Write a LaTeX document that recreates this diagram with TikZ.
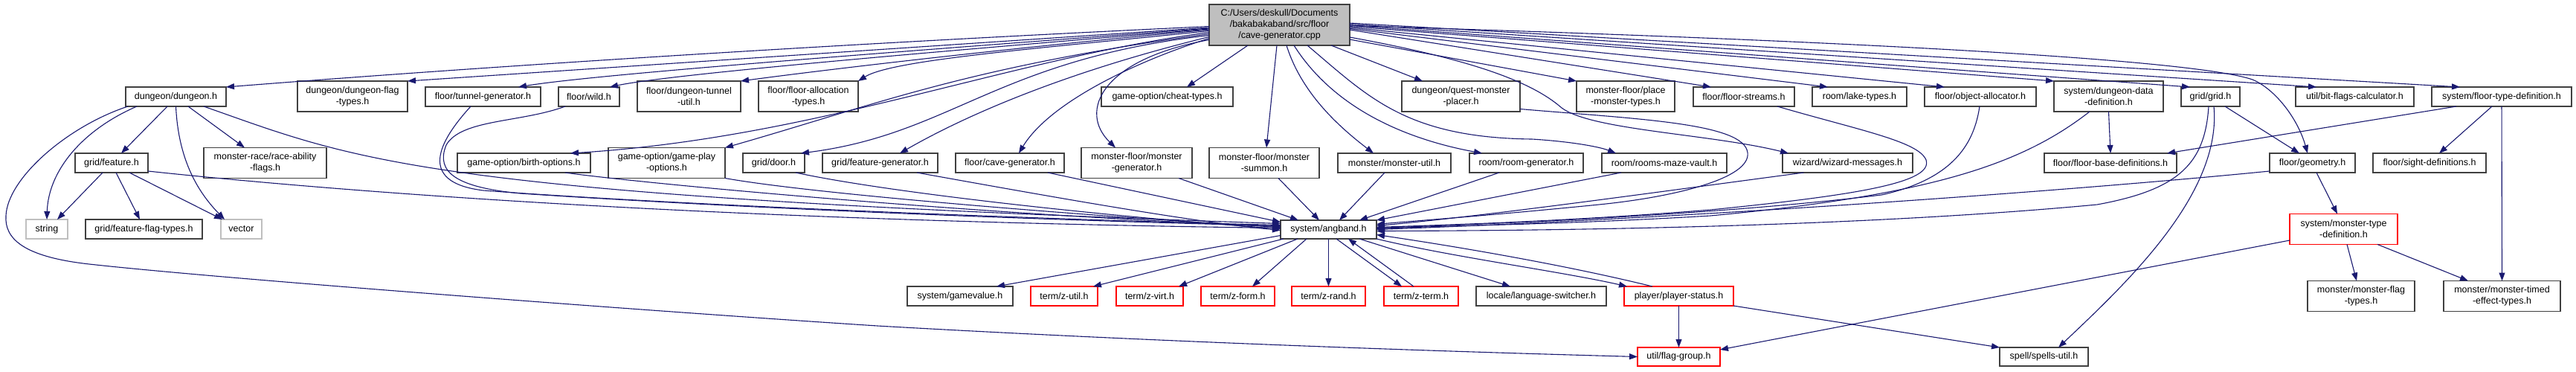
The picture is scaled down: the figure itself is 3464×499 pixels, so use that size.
\documentclass[tikz,border=0pt]{standalone}
\usepackage{fontspec}
\setmainfont{Liberation Sans}
\usepackage{tikz}
\usetikzlibrary{arrows.meta,positioning}
\usepackage{xcolor}
\definecolor{doxyedge}{HTML}{191970}
\definecolor{doxyline}{HTML}{404040}
\definecolor{doxyfill}{HTML}{BFBFBF}
\definecolor{doxyred}{HTML}{FF0000}

\begin{document}
\begin{tikzpicture}[
    x=1pt,y=-1pt,
    filebox/.style={draw=doxyline,fill=white,line width=1.3pt,inner sep=0pt,outer sep=0pt,
      minimum height=26pt,align=center,font=\fontsize{12.5}{15}\selectfont},
    twoline/.style={minimum height=41pt},
    truncbox/.style={filebox,draw=doxyred},
    sysbox/.style={filebox,draw=doxyfill},
    mainbox/.style={filebox,fill=doxyfill,minimum height=55pt},
    arrow/.style={-{Triangle[length=11pt,width=8pt]},line width=1.1pt,doxyedge}
  ]
    \fill[white] (0,0) rectangle (3464,499);
    \useasboundingbox (0,0) rectangle (3464,499);
    \node[mainbox,minimum width=189pt] (main) at (1720.5,33.5) {C:/Users/deskull/Documents\\/bakabakaband/src/floor\\/cave-generator.cpp};
    \node[filebox,minimum width=135pt] (dungeon) at (236.5,130) {dungeon/dungeon.h};
    \node[filebox,twoline,minimum width=148pt] (dflag) at (474,129.5) {dungeon/dungeon-flag\\-types.h};
    \node[filebox,minimum width=155pt] (tunnel) at (649.5,130) {floor/tunnel-generator.h};
    \node[filebox,minimum width=82pt] (wild) at (792,130) {floor/wild.h};
    \node[filebox,twoline,minimum width=139pt] (tunutil) at (926.5,129.5) {floor/dungeon-tunnel\\-util.h};
    \node[filebox,twoline,minimum width=134pt] (falloc) at (1087,129.5) {floor/floor-allocation\\-types.h};
    \node[filebox,minimum width=177pt] (cheat) at (1569.5,130) {game-option/cheat-types.h};
    \node[filebox,twoline,minimum width=159pt] (quest) at (1964.5,129.5) {dungeon/quest-monster\\-placer.h};
    \node[filebox,twoline,minimum width=132pt] (placemon) at (2186,129.5) {monster-floor/place\\-monster-types.h};
    \node[filebox,minimum width=136pt] (streams) at (2345,130) {floor/floor-streams.h};
    \node[filebox,minimum width=127pt] (lake) at (2500.5,130) {room/lake-types.h};
    \node[filebox,minimum width=150pt] (objalloc) at (2663,130) {floor/object-allocator.h};
    \node[filebox,twoline,minimum width=147pt] (dgndata) at (2835.5,129.5) {system/dungeon-data\\-definition.h};
    \node[filebox,minimum width=79pt] (grid) at (2972.5,130) {grid/grid.h};
    \node[filebox,minimum width=159pt] (bitflags) at (3166.5,130) {util/bit-flags-calculator.h};
    \node[filebox,minimum width=188pt] (floortype) at (3364,130) {system/floor-type-definition.h};
    \node[filebox,minimum width=98pt] (feature) at (150,219) {grid/feature.h};
    \node[filebox,twoline,minimum width=165pt] (raceab) at (356.5,219) {monster-race/race-ability\\-flags.h};
    \node[filebox,minimum width=179pt] (birth) at (704.5,219) {game-option/birth-options.h};
    \node[filebox,twoline,minimum width=157pt] (gameplay) at (896.5,219) {game-option/game-play\\-options.h};
    \node[filebox,minimum width=83pt] (door) at (1040.5,219) {grid/door.h};
    \node[filebox,minimum width=155pt] (featgen) at (1183.5,219) {grid/feature-generator.h};
    \node[filebox,minimum width=146pt] (cavegen) at (1358,219) {floor/cave-generator.h};
    \node[filebox,twoline,minimum width=149pt] (mongen) at (1528.5,219) {monster-floor/monster\\-generator.h};
    \node[filebox,twoline,minimum width=148pt] (summon) at (1700,219) {monster-floor/monster\\-summon.h};
    \node[filebox,minimum width=152pt] (monutil) at (1875,219) {monster/monster-util.h};
    \node[filebox,minimum width=153pt] (roomgen) at (2052.5,219) {room/room-generator.h};
    \node[filebox,minimum width=168pt] (mazevault) at (2238,219) {room/rooms-maze-vault.h};
    \node[filebox,minimum width=175pt] (wizard) at (2484.5,219) {wizard/wizard-messages.h};
    \node[filebox,minimum width=178pt] (floorbase) at (2838,219) {floor/floor-base-definitions.h};
    \node[filebox,minimum width=115pt] (geometry) at (3109.5,219) {floor/geometry.h};
    \node[filebox,minimum width=152pt] (sight) at (3267,219) {floor/sight-definitions.h};
    \node[sysbox,minimum width=56pt] (string) at (63,308) {string};
    \node[filebox,minimum width=157pt] (featflag) at (193.5,308) {grid/feature-flag-types.h};
    \node[sysbox,minimum width=55pt] (vector) at (324.5,308) {vector};
    \node[filebox,minimum width=129pt,minimum height=25pt] (angband) at (1786.5,308.5) {system/angband.h};
    \node[truncbox,twoline,minimum width=145pt] (montype) at (3151.5,308) {system/monster-type\\-definition.h};
    \node[filebox,minimum width=142pt] (gamevalue) at (1291,398) {system/gamevalue.h};
    \node[truncbox,minimum width=90pt] (zutil) at (1431,398) {term/z-util.h};
    \node[truncbox,minimum width=90pt] (zvirt) at (1546,398) {term/z-virt.h};
    \node[truncbox,minimum width=99pt] (zform) at (1664.5,398) {term/z-form.h};
    \node[truncbox,minimum width=99pt] (zrand) at (1786.5,398) {term/z-rand.h};
    \node[truncbox,minimum width=100pt] (zterm) at (1911,398) {term/z-term.h};
    \node[filebox,minimum width=175pt] (langsw) at (2072.5,398) {locale/language-switcher.h};
    \node[truncbox,minimum width=147pt] (pstatus) at (2257.5,398) {player/player-status.h};
    \node[filebox,twoline,minimum width=144pt] (monflag) at (3175,398) {monster/monster-flag\\-types.h};
    \node[filebox,twoline,minimum width=157pt] (montimed) at (3364.5,398) {monster/monster-timed\\-effect-types.h};
    \node[truncbox,minimum width=111pt,minimum height=25pt] (flaggrp) at (2257.5,479.5) {util/flag-group.h};
    \node[filebox,minimum width=119pt,minimum height=25pt] (spells) at (2748.5,479.5) {spell/spells-util.h};
    \draw[arrow] ([shift={(0,2)}]main.west) .. controls (1100,60) and (620,92) .. (dungeon.north east);
    \draw[arrow] ([shift={(0,3.5)}]main.west) -- (dflag.north east);
    \draw[arrow] ([shift={(0,4.5)}]main.west) .. controls (1200,70) and (800,100) .. ([shift={(47.5,0)}]tunnel.north);
    \draw[arrow] ([shift={(0,5.5)}]main.west) .. controls (1250,70) and (900,100) .. ([shift={(28,0)}]wild.north);
    \draw[arrow] ([shift={(0,6.5)}]main.west) .. controls (1350,65) and (1100,95) .. (tunutil.north east);
    \draw[arrow] ([shift={(0,8)}]main.west) .. controls (1400,65) and (1200,80) .. (falloc.north east);
    \draw[arrow] ([shift={(0,10)}]main.west) .. controls (1350,80) and (1100,185) .. ([shift={(62.5,0)}]birth.north);
    \draw[arrow] ([shift={(0,12)}]main.west) .. controls (1300,90) and (1180,140) .. (gameplay.north east);
    \draw[arrow] ([shift={(0,14)}]main.west) .. controls (1340,80) and (1280,180) .. ([shift={(36.5,0)}]door.north);
    \draw[arrow] ([shift={(0,16)}]main.west) .. controls (1420,100) and (1290,160) .. ([shift={(26.5,0)}]featgen.north);
    \draw[arrow] ([shift={(0,18)}]main.west) .. controls (1520,85) and (1410,140) .. ([shift={(12,0)}]cavegen.north);
    \draw[arrow] ([shift={(0,20)}]main.west) .. controls (1480,80) and (1450,150) .. ([shift={(-28.5,0)}]mongen.north);
    \draw[arrow] ([shift={(-42.5,0)}]main.south) -- ([shift={(26.5,0)}]cheat.north);
    \draw[arrow] ([shift={(-3.5,0)}]main.south) -- ([shift={(3,0)}]summon.north);
    \draw[arrow] ([shift={(9.5,0)}]main.south) .. controls (1750,125) and (1800,170) .. ([shift={(-28,0)}]monutil.north);
    \draw[arrow] ([shift={(19.5,0)}]main.south) .. controls (1790,140) and (1880,185) .. ([shift={(-59.5,0)}]roomgen.north);
    \draw[arrow] ([shift={(37.5,0)}]main.south) .. controls (1840,130) and (1890,185) .. (2060,187) .. controls (2110,190) and (2150,197) .. ([shift={(-65,0)}]mazevault.north);
    \draw[arrow] ([shift={(69.5,0)}]main.south) -- ([shift={(-51.5,0)}]quest.north);
    \draw[arrow] ([shift={(0,19.5)}]main.east) -- (placemon.north west);
    \draw[arrow] ([shift={(0,16.5)}]main.east) .. controls (1980,80) and (2060,110) .. (2100,145) .. controls (2140,175) and (2300,180) .. ([shift={(8,0)}]wizard.north west);
    \draw[arrow] ([shift={(0,6.5)}]main.east) -- ([shift={(-44,0)}]streams.north);
    \draw[arrow] ([shift={(0,5)}]main.east) -- ([shift={(-42.5,0)}]lake.north);
    \draw[arrow] ([shift={(0,3.5)}]main.east) -- ([shift={(-48,0)}]objalloc.north);
    \draw[arrow] ([shift={(0,2)}]main.east) -- (dgndata.north west);
    \draw[arrow] ([shift={(0,0.5)}]main.east) -- ([shift={(-27.5,0)}]grid.north);
    \draw[arrow] ([shift={(0,-1)}]main.east) -- ([shift={(-51.5,0)}]bitflags.north);
    \draw[arrow] ([shift={(0,-2.5)}]main.east) -- ([shift={(-56,0)}]floortype.north);
    \draw[arrow] ([shift={(0,1)}]main.east) .. controls (2500,55) and (2950,80) .. (3029,107) .. controls (3060,120) and (3090,160) .. ([shift={(-6.5,0)}]geometry.north);
    \draw[arrow] ([shift={(37.5,0)}]dungeon.south) .. controls (480,215) and (560,262) .. ([shift={(0,-8)}]angband.west);
    \draw[arrow] ([shift={(0,-2)}]feature.south east) .. controls (500,262) and (1000,297) .. ([shift={(0,-2)}]angband.west);
    \draw[arrow] ([shift={(-16.5,0)}]tunnel.south) .. controls (590,190) and (560,245) .. (650,256) .. controls (900,275) and (1400,295) .. ([shift={(0,-6)}]angband.west);
    \draw[arrow] ([shift={(-32,0)}]wild.south) .. controls (700,165) and (620,160) .. (600,195) .. controls (585,232) and (615,252) .. (700,260) .. controls (1000,280) and (1400,296) .. ([shift={(0,-5)}]angband.west);
    \draw[arrow] ([shift={(55.5,0)}]birth.south) .. controls (850,245) and (1300,288) .. ([shift={(0,-4)}]angband.west);
    \draw[arrow] (gameplay.south east) .. controls (1100,262) and (1500,293) .. ([shift={(0,-3)}]angband.west);
    \draw[arrow] ([shift={(29.5,0)}]door.south) .. controls (1200,260) and (1500,292) .. ([shift={(0,-1)}]angband.west);
    \draw[arrow] ([shift={(49.5,0)}]featgen.south) .. controls (1400,262) and (1600,298) .. ([shift={(0,1)}]angband.west);
    \draw[arrow] ([shift={(51,0)}]cavegen.south) -- ([shift={(0,-10)}]angband.west);
    \draw[arrow] ([shift={(56.5,0)}]mongen.south) -- ([shift={(-40.5,0)}]angband.north);
    \draw[arrow] ([shift={(19,0)}]summon.south) -- ([shift={(-12.5,0)}]angband.north);
    \draw[arrow] ([shift={(-13,0)}]monutil.south) -- ([shift={(14.5,0)}]angband.north);
    \draw[arrow] ([shift={(-36.5,0)}]roomgen.south) -- ([shift={(41.5,0)}]angband.north);
    \draw[arrow] ([shift={(-58,0)}]mazevault.south) -- (angband.north east);
    \draw[arrow] ([shift={(0,17)}]quest.east) .. controls (2200,160) and (2345,165) .. (2350,205) .. controls (2355,240) and (2250,265) .. (2150,275) .. controls (2000,290) and (1900,297) .. ([shift={(0,-7)}]angband.east);
    \draw[arrow] ([shift={(-59,0)}]wizard.south) .. controls (2200,262) and (2000,290) .. ([shift={(0,-5)}]angband.east);
    \draw[arrow] ([shift={(45,0)}]streams.south) .. controls (2500,175) and (2580,190) .. (2590,215) .. controls (2600,245) and (2500,262) .. (2300,282) .. controls (2100,298) and (1950,302) .. ([shift={(0,-3)}]angband.east);
    \draw[arrow] ([shift={(-1,0)}]objalloc.south) .. controls (2655,190) and (2630,240) .. (2530,262) .. controls (2300,290) and (2000,301) .. ([shift={(0,-2)}]angband.east);
    \draw[arrow] ([shift={(-25.5,0)}]dgndata.south) .. controls (2720,220) and (2600,262) .. (2300,290) .. controls (2100,302) and (1950,303) .. ([shift={(0,-1)}]angband.east);
    \draw[arrow] ([shift={(0,11)}]geometry.west) .. controls (2800,255) and (2300,292) .. (angband.east);
    \draw[arrow] ([shift={(-2.5,0)}]grid.south) .. controls (2965,220) and (2930,255) .. (2820,275) .. controls (2500,305) and (2100,310) .. ([shift={(0,2)}]angband.east);
    \draw[arrow] ([shift={(0,8)}]angband.west) -- ([shift={(49,0)}]gamevalue.north);
    \draw[arrow] ([shift={(-60.5,0)}]angband.south) -- ([shift={(39,0)}]zutil.north);
    \draw[arrow] ([shift={(-41.5,0)}]angband.south) -- ([shift={(39,0)}]zvirt.north);
    \draw[arrow] ([shift={(-29.5,0)}]angband.south) -- ([shift={(19.5,0)}]zform.north);
    \draw[arrow] (angband.south) -- (zrand.north);
    \draw[arrow] ([shift={(10.5,0)}]angband.south) -- ([shift={(-26,0)}]zterm.north);
    \draw[arrow] ([shift={(-10,0)}]zterm.north) -- ([shift={(26.5,0)}]angband.south);
    \draw[arrow] ([shift={(41.5,0)}]angband.south) -- ([shift={(-41.5,0)}]langsw.north);
    \draw[arrow] (angband.south east) .. controls (1950,345) and (2100,365) .. ([shift={(-69.5,0)}]pstatus.north);
    \draw[arrow] ([shift={(-35.5,0)}]pstatus.north) .. controls (2100,355) and (1950,330) .. ([shift={(0,7)}]angband.east);
    \draw[arrow] (pstatus.south) -- (flaggrp.north);
    \draw[arrow] (pstatus.south east) -- (spells.north west);
    \draw[arrow] ([shift={(3,0)}]dungeon.south west) .. controls (90,170) and (10,240) .. (8,290) .. controls (6,320) and (30,345) .. (120,355) .. controls (300,375) and (900,420) .. (1180,438) .. controls (1600,462) and (2000,474) .. (flaggrp.west);
    \draw[arrow] ([shift={(0,15)}]montype.west) -- ([shift={(0,3)}]flaggrp.north east);
    \draw[arrow] ([shift={(4.5,0)}]grid.south) .. controls (2988,260) and (2860,380) .. ([shift={(19.5,0)}]spells.north);
    \draw[arrow] ([shift={(19.5,0)}]grid.south) -- ([shift={(-17.5,0)}]geometry.north);
    \draw[arrow] ([shift={(-61,0)}]floortype.south) -- ([shift={(-13,0)}]floorbase.north east);
    \draw[arrow] ([shift={(-13,0)}]floortype.south) -- ([shift={(13,0)}]sight.north);
    \draw[arrow] (floortype.south) -- (montimed.north);
    \draw[arrow] ([shift={(5.5,0)}]geometry.south) -- ([shift={(-8.5,0)}]montype.north);
    \draw[arrow] ([shift={(4.5,0)}]montype.south) -- ([shift={(-6,0)}]monflag.north);
    \draw[arrow] ([shift={(45.5,0)}]montype.south) -- ([shift={(-45.5,0)}]montimed.north);
    \draw[arrow] (dgndata.south) -- (floorbase.north);
    \draw[arrow] ([shift={(-11.5,0)}]dungeon.south) -- ([shift={(13,0)}]feature.north);
    \draw[arrow] ([shift={(-52.5,0)}]dungeon.south) .. controls (110,175) and (65,230) .. (string.north);
    \draw[arrow] (dungeon.south) .. controls (240,220) and (270,262) .. ([shift={(-22.5,0)}]vector.north);
    \draw[arrow] ([shift={(16.5,0)}]dungeon.south) -- ([shift={(-27.5,0)}]raceab.north);
    \draw[arrow] ([shift={(-12,0)}]feature.south) -- ([shift={(14,0)}]string.north);
    \draw[arrow] ([shift={(6,0)}]feature.south) -- ([shift={(-5.5,0)}]featflag.north);
    \draw[arrow] ([shift={(24,0)}]feature.south) -- ([shift={(-25.5,0)}]vector.north);
  \end{tikzpicture}
\end{document}
